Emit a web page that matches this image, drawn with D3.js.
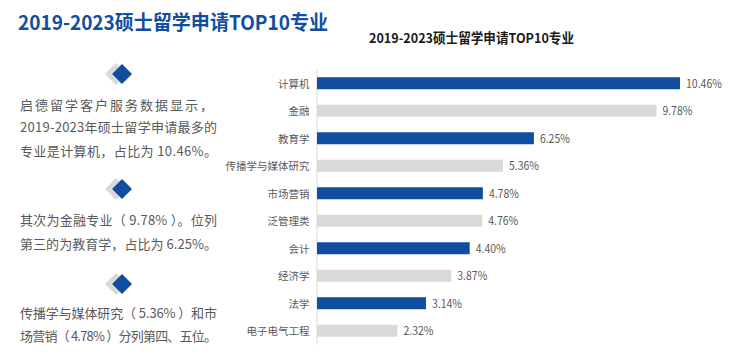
<!DOCTYPE html>
<html>
<head>
<meta charset="utf-8">
<script src="https://cdn.jsdelivr.net/npm/d3@7"></script>
<style>
  html, body { margin: 0; padding: 0; background: #fff; overflow: hidden; }
  text { font-family: "Noto Sans CJK SC", "Noto Sans", sans-serif; }
</style>
</head>
<body>
<div id="chart"></div>
<script>
// data
const majors = ["计算机", "金融", "教育学", "传播学与媒体研究", "市场营销", "泛管理类", "会计", "经济学", "法学", "电子电气工程"];
const shares = [10.46, 9.78, 6.25, 5.36, 4.78, 4.76, 4.40, 3.87, 3.14, 2.32];
const pageTitle = "2019-2023硕士留学申请TOP10专业";
const chartTitle = "2019-2023硕士留学申请TOP10专业";
const noteLines = [
  "启德留学客户服务数据显示，",
  "2019-2023年硕士留学申请最多的",
  "专业是计算机，占比为 10.46%。",
  "其次为金融专业（ 9.78% ）。位列",
  "第三的为教育学，占比为 6.25%。",
  "传播学与媒体研究（ 5.36% ）和市",
  "场营销（ 4.78% ）分列第四、五位。"
];
const noteBaselines = [110, 132, 156, 225, 249, 318, 341];
const markerCenters = [74, 189, 284];

const blue = "#114ea1", grey = "#d9d9d9", textGrey = "#595959";

const svg = d3.select("#chart").append("svg")
  .attr("width", 729)
  .attr("height", 357);

// left side
svg.append("text")
  .attr("x", 18).attr("y", 30)
  .attr("textLength", 310)
  .attr("lengthAdjust", "spacingAndGlyphs")
  .attr("fill", blue)
  .style("font-size", "20px")
  .style("font-weight", 700)
  .text(pageTitle);

const diamond = (cx, cy, r) => `M${cx},${cy - r}L${cx + r},${cy}L${cx},${cy + r}L${cx - r},${cy}Z`;
markerCenters.forEach(cy => {
  svg.append("path").attr("d", diamond(116, cy, 10.5)).attr("fill", grey)
    .attr("stroke", grey).attr("stroke-width", 1).attr("stroke-linejoin", "round");
  svg.append("path").attr("d", diamond(122, cy, 9)).attr("fill", "#fff")
    .attr("stroke", "#fff").attr("stroke-width", 2);
  svg.append("path").attr("d", diamond(122, cy, 9)).attr("fill", blue)
    .attr("stroke", blue).attr("stroke-width", 1.5).attr("stroke-linejoin", "round");
});

svg.selectAll(".note")
  .data(noteLines)
  .enter().append("text")
    .attr("class", "note")
    .attr("x", 20)
    .attr("y", (d, i) => noteBaselines[i])
    .attr("textLength", (d, i) => i === 0 ? 193 : 197)
    .attr("lengthAdjust", "spacing")
    .attr("fill", textGrey)
    .style("font-size", "13px")
    .text(d => d);

// chart
svg.append("text")
  .attr("x", 369).attr("y", 43)
  .attr("textLength", 205)
  .attr("lengthAdjust", "spacingAndGlyphs")
  .attr("fill", "#1a1a1a")
  .style("font-size", "13.5px")
  .style("font-weight", 700)
  .text(chartTitle);

const x = d3.scaleLinear().domain([0, 10.46]).range([317, 680]);
const y = d3.scaleBand()
  .domain(majors)
  .range([69.5, 344.5])
  .paddingInner(0.564)
  .paddingOuter(0.282);

const yAxis = svg.append("g")
  .attr("transform", "translate(316.5,0)")
  .call(d3.axisLeft(y).tickSize(0).tickPadding(7));
yAxis.select(".domain").attr("stroke", "#d9d9d9");
yAxis.selectAll("text")
  .attr("fill", textGrey)
  .attr("dy", "0.45em")
  .style("font-family", '"Noto Sans CJK SC", sans-serif')
  .style("font-size", "10.5px");

svg.selectAll(".bar")
  .data(majors)
  .enter().append("rect")
    .attr("class", "bar")
    .attr("x", x(0))
    .attr("y", d => y(d))
    .attr("width", (d, i) => x(shares[i]) - x(0))
    .attr("height", y.bandwidth())
    .attr("fill", (d, i) => i % 2 === 0 ? blue : grey);

const valueLabel = v => v.toFixed(2) + "%";
svg.selectAll(".value")
  .data(majors)
  .enter().append("text")
    .attr("class", "value")
    .attr("x", (d, i) => x(shares[i]) + 6)
    .attr("y", d => y(d) + y.bandwidth() / 2)
    .attr("dy", "0.4em")
    .attr("textLength", (d, i) => valueLabel(shares[i]).length * 6)
    .attr("lengthAdjust", "spacingAndGlyphs")
    .attr("fill", textGrey)
    .style("font-size", "11.5px")
    .text((d, i) => valueLabel(shares[i]));
</script>
</body>
</html>
